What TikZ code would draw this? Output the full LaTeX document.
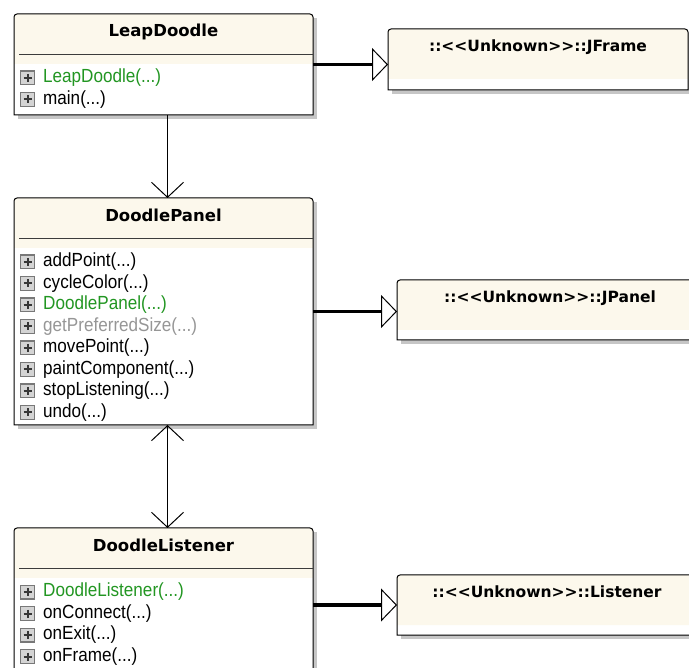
\documentclass[tikz,border=0pt]{standalone}
\usepackage{fontspec}
\setmainfont{Liberation Sans}
\newfontfamily\titlefont{DejaVu Sans}
\newfontfamily\memberfont{Liberation Sans}[FakeStretch=0.9]
\usetikzlibrary{arrows.meta,calc}

\definecolor{cream}{RGB}{252,248,236}
\definecolor{shadowgray}{RGB}{198,198,198}
\definecolor{ctorgreen}{RGB}{34,150,34}
\definecolor{inheritgray}{RGB}{150,150,150}
\definecolor{rulegray}{RGB}{60,60,60}
\definecolor{iconedge}{RGB}{120,120,120}
\definecolor{iconfill}{RGB}{212,212,212}
\definecolor{iconplus}{RGB}{55,55,55}

\tikzset{
  frame/.style={rectangle, draw=none, inner sep=0pt, outer sep=0pt, anchor=north west},
  classtitle/.style={font=\titlefont\bfseries\fontsize{16.5}{18}\selectfont, inner sep=0pt},
  reftitle/.style={font=\titlefont\bfseries\fontsize{15.5}{18}\selectfont, inner sep=0pt},
  member/.style={font=\memberfont\fontsize{19}{22}\selectfont, inner sep=0pt, anchor=west, text=black},
  ctor/.style={member, text=ctorgreen},
  inherited/.style={member, text=inheritgray},
  generalize/.style={line width=3.8pt,
    -{Triangle[length=16pt,width=33pt,line width'=1pt,fill=white]}},
  navigate/.style={line width=1pt,
    -{Straight Barb[length=15pt,width=32pt,line width'=1pt]}},
  navboth/.style={line width=1pt,
    {Straight Barb[length=15pt,width=32pt,line width'=1pt]}-{Straight Barb[length=15pt,width=32pt,line width'=1pt]}},
  plusicon/.pic={
    \filldraw[draw=iconedge, fill=iconfill, line width=1.4pt] (-6.8,-6.8) rectangle (6.8,6.8);
    \draw[iconplus, line width=2pt] (-4,0) -- (4,0) (0,-4) -- (0,4);
  }
}

% shadow, white body, cream head and outline of a box
\newcommand\drawbox[1]{%
  \fill[shadowgray] ([shift={(4,4)}]#1.north west) rectangle ([shift={(4,4)}]#1.south east);
  \fill[white] (#1.north west) rectangle (#1.south east);
  \fill[cream] ([shift={(0,50)}]#1.north west) [rounded corners=3pt] -- (#1.north west)
     -- (#1.north east) [sharp corners] -- ([shift={(0,50)}]#1.north east) -- cycle;
  \draw[line width=1pt] (#1.south west) [rounded corners=3pt] -- (#1.north west)
     -- (#1.north east) [sharp corners] -- (#1.south east) -- cycle;
}
% a class box also has a rule under its name
\newcommand\drawclass[1]{%
  \drawbox{#1}%
  \draw[rulegray, line width=1pt] ([shift={(5,41)}]#1.north west) -- ([shift={(0,41)}]#1.north east);
}
% one operation row: node name, box, row index, style, text
\newcommand\member[5]{%
  \pic at ([shift={(13.5,64+21.5*#3)}]#2.north west) {plusicon};
  \node[#4] (#1) at ([shift={(29,64+21.5*#3)}]#2.north west) {#5};
}

\begin{document}
\begin{tikzpicture}[x=1pt,y=-1pt]
\useasboundingbox (0,0) rectangle (689,668);
\clip (0,0) rectangle (689,668);

% geometry of the boxes
\node[frame, minimum width=299pt, minimum height=101pt] (leap) at (14,14) {};
\node[frame, minimum width=299pt, minimum height=227pt] (dpanel) at (14,198) {};
\node[frame, minimum width=299pt, minimum height=150pt] (dlist) at (14,528) {};
\node[frame, minimum width=300pt, minimum height=61pt] (jframe) at (388,29) {};
\node[frame, minimum width=306pt, minimum height=60pt] (jpanel) at (397,280) {};
\node[frame, minimum width=300pt, minimum height=60pt] (listener) at (397,575) {};

\drawclass{leap}
\drawclass{dpanel}
\drawclass{dlist}
\drawbox{jframe}
\drawbox{jpanel}
\drawbox{listener}

% names
\node[classtitle] (leap-t) at ([shift={(0,18)}]leap.north) {LeapDoodle};
\node[classtitle] (dpanel-t) at ([shift={(0,17)}]dpanel.north) {DoodlePanel};
\node[classtitle] (dlist-t) at ([shift={(0,17)}]dlist.north) {DoodleListener};
\node[reftitle] (jframe-t) at ([shift={(0,18)}]jframe.north) {::<<Unknown>>::JFrame};
\node[reftitle] (jpanel-t) at ([shift={(0,18)}]jpanel.north) {::<<Unknown>>::JPanel};
\node[reftitle] (listener-t) at ([shift={(0,17)}]listener.north) {::<<Unknown>>::Listener};

% operations
\member{leap-1}{leap}{0}{ctor}{LeapDoodle(...)}
\member{leap-2}{leap}{1}{member}{main(...)}

\member{dpanel-1}{dpanel}{0}{member}{addPoint(...)}
\member{dpanel-2}{dpanel}{1}{member}{cycleColor(...)}
\member{dpanel-3}{dpanel}{2}{ctor}{DoodlePanel(...)}
\member{dpanel-4}{dpanel}{3}{inherited}{getPreferredSize(...)}
\member{dpanel-5}{dpanel}{4}{member}{movePoint(...)}
\member{dpanel-6}{dpanel}{5}{member}{paintComponent(...)}
\member{dpanel-7}{dpanel}{6}{member}{stopListening(...)}
\member{dpanel-8}{dpanel}{7}{member}{undo(...)}

\member{dlist-1}{dlist}{0}{ctor}{DoodleListener(...)}
\member{dlist-2}{dlist}{1}{member}{onConnect(...)}
\member{dlist-3}{dlist}{2}{member}{onExit(...)}
\member{dlist-4}{dlist}{3}{member}{onFrame(...)}

% generalizations
\draw[generalize] (leap.east) -- (leap.east -| jframe.west);
\draw[generalize] (dpanel.east) -- (dpanel.east -| jpanel.west);
\draw[generalize] (dlist.east |- listener.west) -- (listener.west);

% associations
\draw[navigate] ([xshift=4pt]leap.south) -- ([xshift=4pt]leap.south |- dpanel.north);
\draw[navboth] ([xshift=4pt]dpanel.south) -- ([xshift=4pt]dpanel.south |- dlist.north);
\end{tikzpicture}
\end{document}
